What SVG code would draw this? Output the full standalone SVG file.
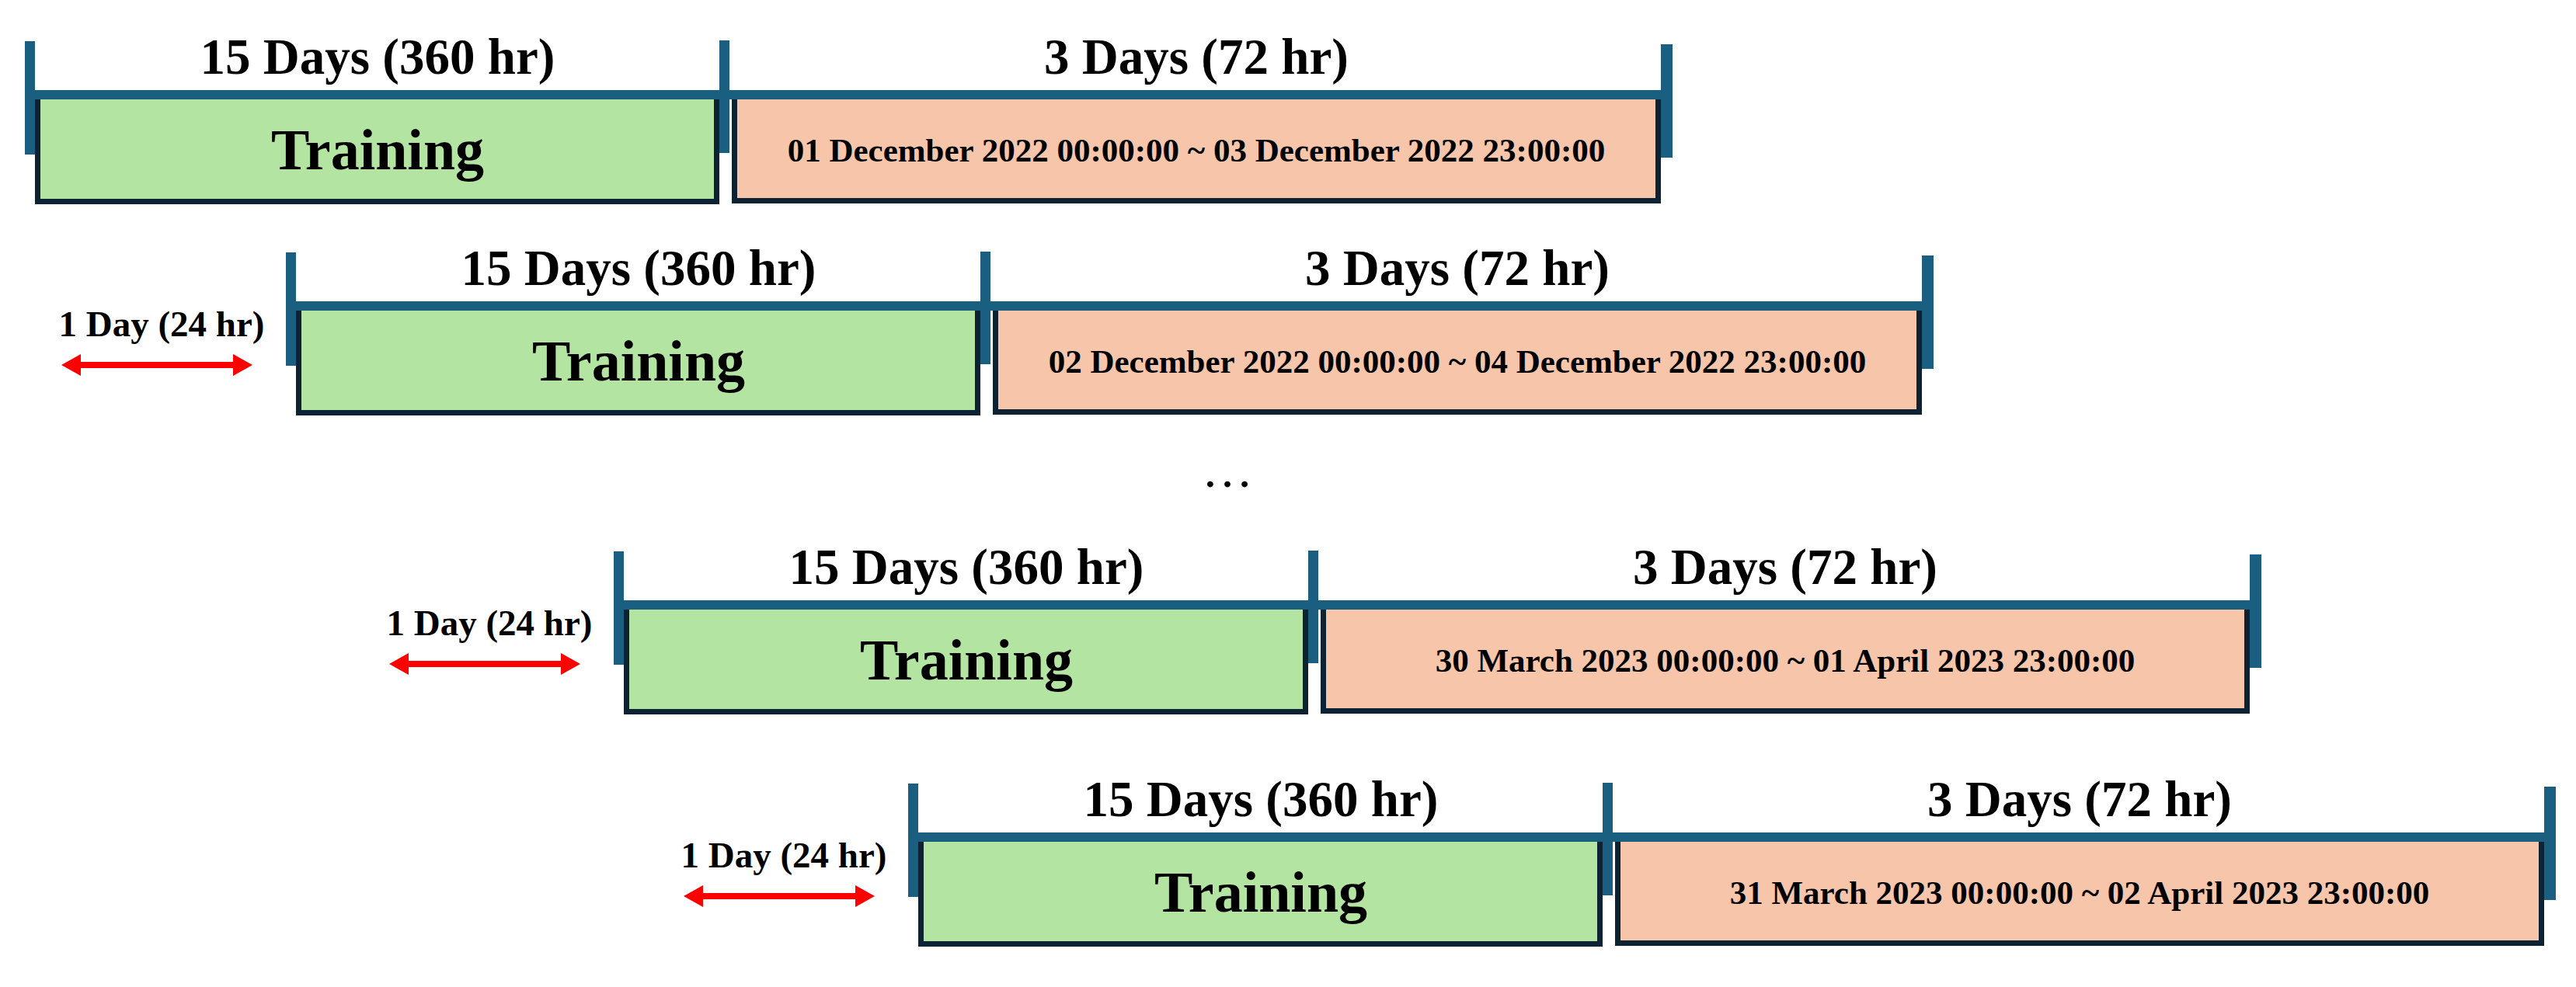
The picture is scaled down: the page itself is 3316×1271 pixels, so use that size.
<svg xmlns="http://www.w3.org/2000/svg" width="3316" height="1271" viewBox="0 0 3316 1271">
<style>
.bar{fill:#1a5e80}
.train{fill:#b3e4a1;stroke:#0d2233;stroke-width:7}
.test{fill:#f7c6aa;stroke:#0d2233;stroke-width:7}
text{font-family:"Liberation Serif","Times New Roman",serif;font-weight:bold;fill:#000;text-anchor:middle}
.dur{font-size:65px}
.tr{font-size:74px}
.date{font-size:43px}
.day{font-size:47px}
.arrow{stroke:#ff0000;stroke-width:8;fill:none;marker-start:url(#ah);marker-end:url(#ah)}
</style>
<defs>
<marker id="ah" viewBox="0 0 25 28" refX="0" refY="14" markerWidth="25" markerHeight="28" markerUnits="userSpaceOnUse" orient="auto-start-reverse">
<path d="M0,0 L25,14 L0,28 z" fill="#ff0000"/>
</marker>
</defs>
<rect width="3316" height="1271" fill="#ffffff"/>

<g id="row1" transform="translate(32,53)">
  <g id="row1-train"><rect class="train" x="16.5" y="71.5" width="874" height="135"/><text class="tr" x="454" y="165">Training</text></g>
  <g id="row1-test"><rect class="test" x="913.5" y="71.5" width="1189" height="134"/><text class="date" x="1508" y="155">01 December 2022 00:00:00 ~ 03 December 2022 23:00:00</text></g>
  <g id="row1-scale">
    <rect class="bar" x="0" y="63" width="2121" height="12"/>
    <rect class="bar" x="0" y="0" width="13" height="146"/>
    <rect class="bar" x="894" y="-1" width="13" height="145"/>
    <rect class="bar" x="2106" y="4" width="15" height="146"/>
    <text class="dur" x="454" y="42">15 Days (360 hr)</text>
    <text class="dur" x="1508" y="42">3 Days (72 hr)</text>
  </g>
</g>

<g id="row2" transform="translate(368,325)">
  <g id="row2-train"><rect class="train" x="16.5" y="71.5" width="874" height="135"/><text class="tr" x="454" y="165">Training</text></g>
  <g id="row2-test"><rect class="test" x="913.5" y="71.5" width="1189" height="134"/><text class="date" x="1508" y="155">02 December 2022 00:00:00 ~ 04 December 2022 23:00:00</text></g>
  <g id="row2-scale">
    <rect class="bar" x="0" y="63" width="2121" height="12"/>
    <rect class="bar" x="0" y="0" width="13" height="146"/>
    <rect class="bar" x="894" y="-1" width="13" height="145"/>
    <rect class="bar" x="2106" y="4" width="15" height="146"/>
    <text class="dur" x="454" y="42">15 Days (360 hr)</text>
    <text class="dur" x="1508" y="42">3 Days (72 hr)</text>
  </g>
  <g id="row2-shift"><text class="day" x="-160" y="108">1 Day (24 hr)</text></g>
</g>

<g id="ellipsis"><text x="1580" y="627" style="font-size:66px;font-weight:normal">…</text></g>

<g id="row3" transform="translate(790,710)">
  <g id="row3-train"><rect class="train" x="16.5" y="71.5" width="874" height="135"/><text class="tr" x="454" y="165">Training</text></g>
  <g id="row3-test"><rect class="test" x="913.5" y="71.5" width="1189" height="134"/><text class="date" x="1508" y="155">30 March 2023 00:00:00 ~ 01 April 2023 23:00:00</text></g>
  <g id="row3-scale">
    <rect class="bar" x="0" y="63" width="2121" height="12"/>
    <rect class="bar" x="0" y="0" width="13" height="146"/>
    <rect class="bar" x="894" y="-1" width="13" height="145"/>
    <rect class="bar" x="2106" y="4" width="15" height="146"/>
    <text class="dur" x="454" y="42">15 Days (360 hr)</text>
    <text class="dur" x="1508" y="42">3 Days (72 hr)</text>
  </g>
  <g id="row3-shift"><text class="day" x="-160" y="108">1 Day (24 hr)</text></g>
</g>

<g id="row4" transform="translate(1169,1009)">
  <g id="row4-train"><rect class="train" x="16.5" y="71.5" width="874" height="135"/><text class="tr" x="454" y="165">Training</text></g>
  <g id="row4-test"><rect class="test" x="913.5" y="71.5" width="1189" height="134"/><text class="date" x="1508" y="155">31 March 2023 00:00:00 ~ 02 April 2023 23:00:00</text></g>
  <g id="row4-scale">
    <rect class="bar" x="0" y="63" width="2121" height="12"/>
    <rect class="bar" x="0" y="0" width="13" height="146"/>
    <rect class="bar" x="894" y="-1" width="13" height="145"/>
    <rect class="bar" x="2106" y="4" width="15" height="146"/>
    <text class="dur" x="454" y="42">15 Days (360 hr)</text>
    <text class="dur" x="1508" y="42">3 Days (72 hr)</text>
  </g>
  <g id="row4-shift"><text class="day" x="-160" y="108">1 Day (24 hr)</text></g>
</g>

<g id="connectors">
  <path class="arrow" d="M104,470 H300"/>
  <path class="arrow" d="M526,855 H722"/>
  <path class="arrow" d="M905,1154 H1101"/>
</g>
</svg>
